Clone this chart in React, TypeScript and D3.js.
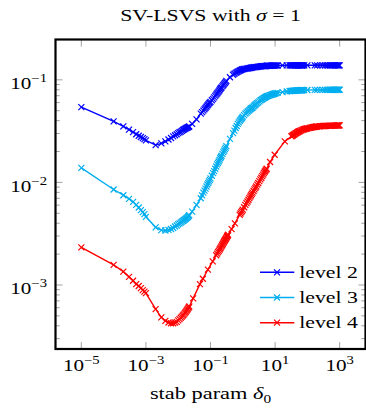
import React, { useEffect, useRef } from "react";
import * as d3 from "d3";

// x grid for level 2 and level 3 (stab param delta_0)
const gridA = [
  1e-5, 1e-4, 2e-4, 3e-4, 4e-4, 5e-4, 6e-4, 7e-4, 8e-4, 9e-4,
  1e-3, 2e-3, 3e-3, 4e-3, 5e-3, 6e-3, 7e-3, 8e-3, 9e-3,
  0.01, 0.012, 0.014, 0.016, 0.018, 0.02, 0.022, 0.027, 0.037,
  0.05, 0.06, 0.07, 0.08, 0.09, 0.1, 0.12, 0.14, 0.16, 0.18, 0.2, 0.22,
  0.25, 0.28, 0.31, 0.4, 0.5, 0.6, 0.7, 0.8, 0.9,
  1, 1.2, 1.4, 1.6, 1.8, 2, 2.3, 2.6, 3, 3.5, 4, 4.5, 5, 5.5, 6, 7, 8, 9,
  10, 11, 12, 17, 23, 28, 32, 36, 40, 45, 50, 55, 60, 65, 70, 80, 100, 170,
  200, 300, 400, 500, 600, 700, 800, 900, 1000,
];

const level2 = [
  0.0542, 0.0394, 0.0352, 0.0327, 0.0309, 0.0295, 0.0285, 0.0277, 0.027, 0.0264,
  0.0257, 0.0231, 0.024, 0.0251, 0.0262, 0.0271, 0.0281, 0.0288, 0.0295,
  0.0302, 0.0313, 0.0324, 0.0332, 0.0339, 0.0345, 0.0351, 0.0372, 0.0412,
  0.0468, 0.0501, 0.0531, 0.0562, 0.0589, 0.061, 0.0653, 0.0697, 0.0736, 0.0771, 0.0813, 0.0845,
  0.0891, 0.0933, 0.0977, 0.106, 0.112, 0.117, 0.12, 0.123, 0.125,
  0.127, 0.128, 0.129, 0.13, 0.131, 0.132, 0.133, 0.133, 0.134, 0.135, 0.136, 0.136, 0.136, 0.137, 0.137, 0.137, 0.1375, 0.1377,
  0.1378, 0.1379, 0.138, 0.1382, 0.1383, 0.1384, 0.1384, 0.1384, 0.1384, 0.1384, 0.1384, 0.1384, 0.1384, 0.1384, 0.1384, 0.1384, 0.1385, 0.1385,
  0.1385, 0.1385, 0.1385, 0.1385, 0.1385, 0.1385, 0.1385, 0.1385, 0.1385,
];

const level3 = [
  0.01384, 0.00853, 0.0075, 0.00692, 0.00646, 0.00603, 0.00569, 0.00537, 0.00513, 0.0049,
  0.00462, 0.00365, 0.00343, 0.0034, 0.00345, 0.00351, 0.00359, 0.00372, 0.0038,
  0.00391, 0.00407, 0.00422, 0.00435, 0.00447, 0.00462, 0.00479, 0.00519, 0.00603,
  0.007, 0.00794, 0.00871, 0.00955, 0.01023, 0.01096, 0.0123, 0.0136, 0.015, 0.016, 0.0172, 0.0182,
  0.0197, 0.0211, 0.0226, 0.0266, 0.0302, 0.0339, 0.0372, 0.0398, 0.0417,
  0.0437, 0.0468, 0.049, 0.0507, 0.0525, 0.0537, 0.0562, 0.0582, 0.0603, 0.0631, 0.0646, 0.0664, 0.0676, 0.0689, 0.0697, 0.0708, 0.0719, 0.0728,
  0.0735, 0.0741, 0.0746, 0.0759, 0.0769, 0.0776, 0.0779, 0.0782, 0.0784, 0.0786, 0.0788, 0.079, 0.0791, 0.0792, 0.0793, 0.0794, 0.0796, 0.0798,
  0.0798, 0.0799, 0.0799, 0.08, 0.08, 0.08, 0.08, 0.08, 0.08,
];

// extra samples where the markers of level 2 and level 3 pile up
const gridA2 = [
  0.011, 0.013, 0.015, 0.017, 0.019, 0.021,
  0.055, 0.065, 0.075, 0.085, 0.095, 0.11, 0.13, 0.15, 0.17, 0.19, 0.21, 0.235, 0.265, 0.295,
  0.55, 0.65, 0.75, 0.85, 0.95, 1.1, 1.3, 1.5, 1.7, 1.9, 2.15, 2.45, 2.8, 3.25, 3.75, 4.25, 4.75, 5.25, 5.75, 6.5, 7.5, 8.5, 9.5,
  30, 34, 38, 42.5, 47.5, 52.5, 57.5, 62.5, 67.5, 75,
  250, 350, 450, 550, 650, 750, 850, 950,
];

const level2b = [
  0.0308, 0.0318, 0.0328, 0.0336, 0.0342, 0.0348,
  0.0485, 0.0516, 0.0546, 0.0575, 0.06, 0.0632, 0.0675, 0.0717, 0.0754, 0.0792, 0.0829, 0.0868, 0.0912, 0.0955,
  0.1145, 0.1185, 0.1215, 0.124, 0.126, 0.1275, 0.1285, 0.1295, 0.1305, 0.1315, 0.1325, 0.133, 0.1335, 0.1345, 0.1355, 0.136, 0.136, 0.1365, 0.137, 0.137, 0.1372, 0.1376, 0.1378,
  0.1384, 0.1384, 0.1384, 0.1384, 0.1384, 0.1384, 0.1384, 0.1384, 0.1384, 0.1384,
  0.1385, 0.1385, 0.1385, 0.1385, 0.1385, 0.1385, 0.1385, 0.1385,
];

const level3b = [
  0.00399, 0.00414, 0.00428, 0.00441, 0.00454, 0.0047,
  0.00747, 0.00832, 0.00913, 0.00989, 0.0106, 0.0116, 0.0129, 0.0143, 0.0155, 0.0166, 0.0177, 0.019, 0.0204, 0.0218,
  0.032, 0.0355, 0.0385, 0.0407, 0.0427, 0.0452, 0.0479, 0.0498, 0.0516, 0.0531, 0.055, 0.0572, 0.0592, 0.0617, 0.0638, 0.0655, 0.067, 0.0682, 0.0693, 0.0702, 0.0713, 0.0723, 0.0731,
  0.0778, 0.078, 0.0783, 0.0785, 0.0787, 0.0789, 0.079, 0.0791, 0.0792, 0.0793,
  0.0798, 0.0799, 0.08, 0.08, 0.08, 0.08, 0.08, 0.08,
];

// x grid for level 4
const gridB = [
  1e-5, 1e-4, 2e-4, 3e-4, 4e-4, 5e-4, 6e-4, 7e-4, 8e-4, 9e-4,
  1e-3, 2e-3, 3e-3, 4e-3, 5e-3, 6e-3, 7e-3, 8e-3, 9e-3,
  0.01, 0.012, 0.014, 0.016, 0.018, 0.02, 0.022, 0.029, 0.047, 0.058, 0.083, 0.117,
  0.15, 0.17, 0.19, 0.21, 0.23, 0.25, 0.27, 0.29, 0.31, 0.33, 0.35, 0.45, 0.57,
  0.8, 0.9, 1, 1.2, 1.4, 1.6, 1.8, 2, 2.3, 2.6, 3, 3.5, 4, 4.5, 5, 5.5, 7, 9.7, 20,
  32, 36, 40, 45, 50, 55, 60, 70, 80, 90, 100, 120, 140, 160, 180,
  200, 250, 300, 350, 400, 500, 600, 700, 800, 900, 1000,
];

const level4 = [
  0.00233, 0.00157, 0.00135, 0.0012, 0.0011, 0.00102, 0.000977, 0.000933, 0.000891, 0.000861,
  0.000832, 0.000582, 0.000484, 0.000447, 0.000431, 0.000424, 0.000424, 0.000429, 0.000437,
  0.000452, 0.000479, 0.000504, 0.000531, 0.00056, 0.000589, 0.000617, 0.000741, 0.00102, 0.00115, 0.00141, 0.0017,
  0.00195, 0.00209, 0.00221, 0.00233, 0.00245, 0.00257, 0.00269, 0.00278, 0.00288, 0.00299, 0.00309, 0.0035, 0.00398,
  0.00482, 0.00513, 0.00543, 0.00603, 0.00652, 0.00702, 0.0075, 0.00794, 0.00855, 0.00912, 0.00986, 0.0107, 0.0115, 0.0123, 0.013, 0.0136, 0.0158, 0.0186, 0.0251,
  0.0281, 0.0288, 0.0295, 0.0302, 0.0309, 0.0314, 0.0318, 0.0325, 0.033, 0.0333, 0.0336, 0.034, 0.0344, 0.0347, 0.0349,
  0.0351, 0.0353, 0.0355, 0.0355, 0.0356, 0.0357, 0.0358, 0.0358, 0.0359, 0.0359, 0.036,
];

// extra samples where the markers of level 4 pile up
const gridB2 = [
  0.011, 0.013, 0.015, 0.017, 0.019, 0.021,
  0.16, 0.18, 0.2, 0.22, 0.24, 0.26, 0.28, 0.3, 0.32, 0.34,
  0.85, 0.95, 1.1, 1.3, 1.5, 1.7, 1.9, 2.15, 2.45, 2.8, 3.25, 3.75, 4.25, 4.75, 5.25,
  34, 38, 42.5, 47.5, 52.5, 57.5, 65, 75, 85, 95, 110, 130, 150, 170, 190,
  225, 275, 325, 375, 450, 550, 650, 750, 850, 950,
];

const level4b = [
  0.000465, 0.000491, 0.000517, 0.000545, 0.000574, 0.000603,
  0.00202, 0.00215, 0.00227, 0.00239, 0.00251, 0.00263, 0.00273, 0.00283, 0.00294, 0.00304,
  0.00498, 0.00528, 0.00573, 0.00628, 0.00677, 0.00726, 0.00772, 0.00825, 0.00884, 0.0095, 0.0103, 0.0111, 0.0119, 0.0127, 0.0133,
  0.0285, 0.0292, 0.0299, 0.0306, 0.0312, 0.0316, 0.0322, 0.0328, 0.0332, 0.0335, 0.0338, 0.0342, 0.0346, 0.0348, 0.035,
  0.0352, 0.0354, 0.0355, 0.0356, 0.0357, 0.0357, 0.0358, 0.0358, 0.0359, 0.036,
];

const seriesNames = ["level 2", "level 3", "level 4"];
const seriesColors = ["#0000ff", "#00aeef", "#ff0000"];

const xTicks = [1e-5, 1e-3, 1e-1, 1e1, 1e3];
const xTickExp = ["\u22125", "\u22123", "\u22121", "1", "3"];
const yTicks = [1e-3, 1e-2, 1e-1];
const yTickExp = ["\u22123", "\u22122", "\u22121"];

const FONT = "Liberation Serif, DejaVu Serif, serif";
const SX = 1.28;

export default function App() {
  const ref = useRef<SVGSVGElement>(null);

  useEffect(() => {
    const svg = d3.select(ref.current);
    svg.selectAll("*").remove();

    // frame of the plot area
    const left = 55.5;
    const right = 365.5;
    const top = 39.5;
    const bottom = 349;

    const x = d3
      .scaleLog()
      .domain([Math.pow(10, -5.8), Math.pow(10, 3.8)])
      .range([left, right]);
    const y = d3
      .scaleLog()
      .domain([Math.pow(10, -3.624), Math.pow(10, -0.607)])
      .range([bottom, top]);

    const tickColor = "#999";
    const ticks = svg.append("g").attr("stroke", tickColor).attr("stroke-width", 0.9);

    // x ticks, bottom and top, pointing in
    xTicks.forEach((t) => {
      const px = x(t);
      ticks.append("line").attr("x1", px).attr("x2", px).attr("y1", bottom).attr("y2", bottom - 7);
      ticks.append("line").attr("x1", px).attr("x2", px).attr("y1", top).attr("y2", top + 7);
    });

    // y ticks, major and minor, both sides
    const minor = y.ticks().filter((t) => t <= 0.1 + 1e-9);
    minor.forEach((t) => {
      const py = y(t);
      const isMajor = yTicks.some((m) => Math.abs(m - t) / m < 1e-6);
      const len = isMajor ? 7 : 4.3;
      ticks.append("line").attr("x1", left).attr("x2", left + len).attr("y1", py).attr("y2", py);
      ticks.append("line").attr("x1", right).attr("x2", right - len).attr("y1", py).attr("y2", py);
    });

    // series: base samples merged with the extra ones, sorted by x
    const merge = (gx: number[], gy: number[], ex: number[], ey: number[]) => {
      const pts: [number, number][] = gy.map((v, j) => [gx[j], v] as [number, number]);
      ey.forEach((v, j) => pts.push([ex[j], v]));
      return pts.sort((a, b) => a[0] - b[0]);
    };
    const series = [
      merge(gridA, level2, gridA2, level2b),
      merge(gridA, level3, gridA2, level3b),
      merge(gridB, level4, gridB2, level4b),
    ];

    const line = d3
      .line<[number, number]>()
      .x((d) => x(d[0]))
      .y((d) => y(d[1]));
    const cross = "M-3,-3L3,3M-3,3L3,-3";

    series.forEach((pts, i) => {
      const g = svg.append("g");
      g.append("path")
        .attr("d", line(pts))
        .attr("fill", "none")
        .attr("stroke", seriesColors[i])
        .attr("stroke-width", 1.4);
      g.selectAll("path.mark")
        .data(pts)
        .enter()
        .append("path")
        .attr("class", "mark")
        .attr("d", cross)
        .attr("transform", (d) => `translate(${x(d[0])},${y(d[1])})`)
        .attr("fill", "none")
        .attr("stroke", seriesColors[i])
        .attr("stroke-width", 1.2);
    });

    // frame
    svg
      .append("rect")
      .attr("x", left)
      .attr("y", top)
      .attr("width", right - left)
      .attr("height", bottom - top)
      .attr("fill", "none")
      .attr("stroke", "#000")
      .attr("stroke-width", 2.2);

    // text helper: a horizontally stretched text element
    const label = (px: number, py: number, anchor: string, size: number) =>
      svg
        .append("g")
        .attr("transform", `translate(${px},${py}) scale(${SX},1)`)
        .append("text")
        .attr("text-anchor", anchor)
        .style("font-family", FONT)
        .attr("font-size", size)
        .attr("fill", "#000");

    const power = (px: number, py: number, exp: string, anchor: string) => {
      const t = label(px, py, anchor, 16.5);
      t.append("tspan").text("10");
      t.append("tspan").attr("dy", -7).attr("font-size", 11.5).text(exp);
    };

    xTicks.forEach((t, i) => power(x(t), 371, xTickExp[i], "middle"));
    yTicks.forEach((t, i) => power(47, y(t) + 9.5, yTickExp[i], "end"));

    // title
    const title = label((left + right) / 2, 20.5, "middle", 17);
    title.append("tspan").text("SV-LSVS with ");
    title.append("tspan").style("font-style", "italic").text("\u03c3");
    title.append("tspan").text(" = 1");

    // x label
    const xl = label((left + right) / 2, 399, "middle", 17.5);
    xl.append("tspan").text("stab param ");
    xl.append("tspan").style("font-style", "italic").text("\u03b4");
    xl.append("tspan").attr("dy", 3.5).attr("font-size", 12).text("0");

    // legend
    const legend = svg.append("g");
    seriesNames.forEach((name, i) => {
      const ly = 272.3 + i * 25.2;
      legend
        .append("line")
        .attr("x1", 260)
        .attr("x2", 294.3)
        .attr("y1", ly)
        .attr("y2", ly)
        .attr("stroke", seriesColors[i])
        .attr("stroke-width", 1.4);
      legend
        .append("path")
        .attr("d", cross)
        .attr("transform", `translate(277,${ly})`)
        .attr("fill", "none")
        .attr("stroke", seriesColors[i])
        .attr("stroke-width", 1.2);
      label(299.3, ly + 5.3, "start", 17).text(name);
    });
  }, []);

  return (
    <svg
      ref={ref}
      width={366}
      height={411}
      style={{ position: "absolute", left: 0, top: 0, background: "#fff" }}
    />
  );
}
